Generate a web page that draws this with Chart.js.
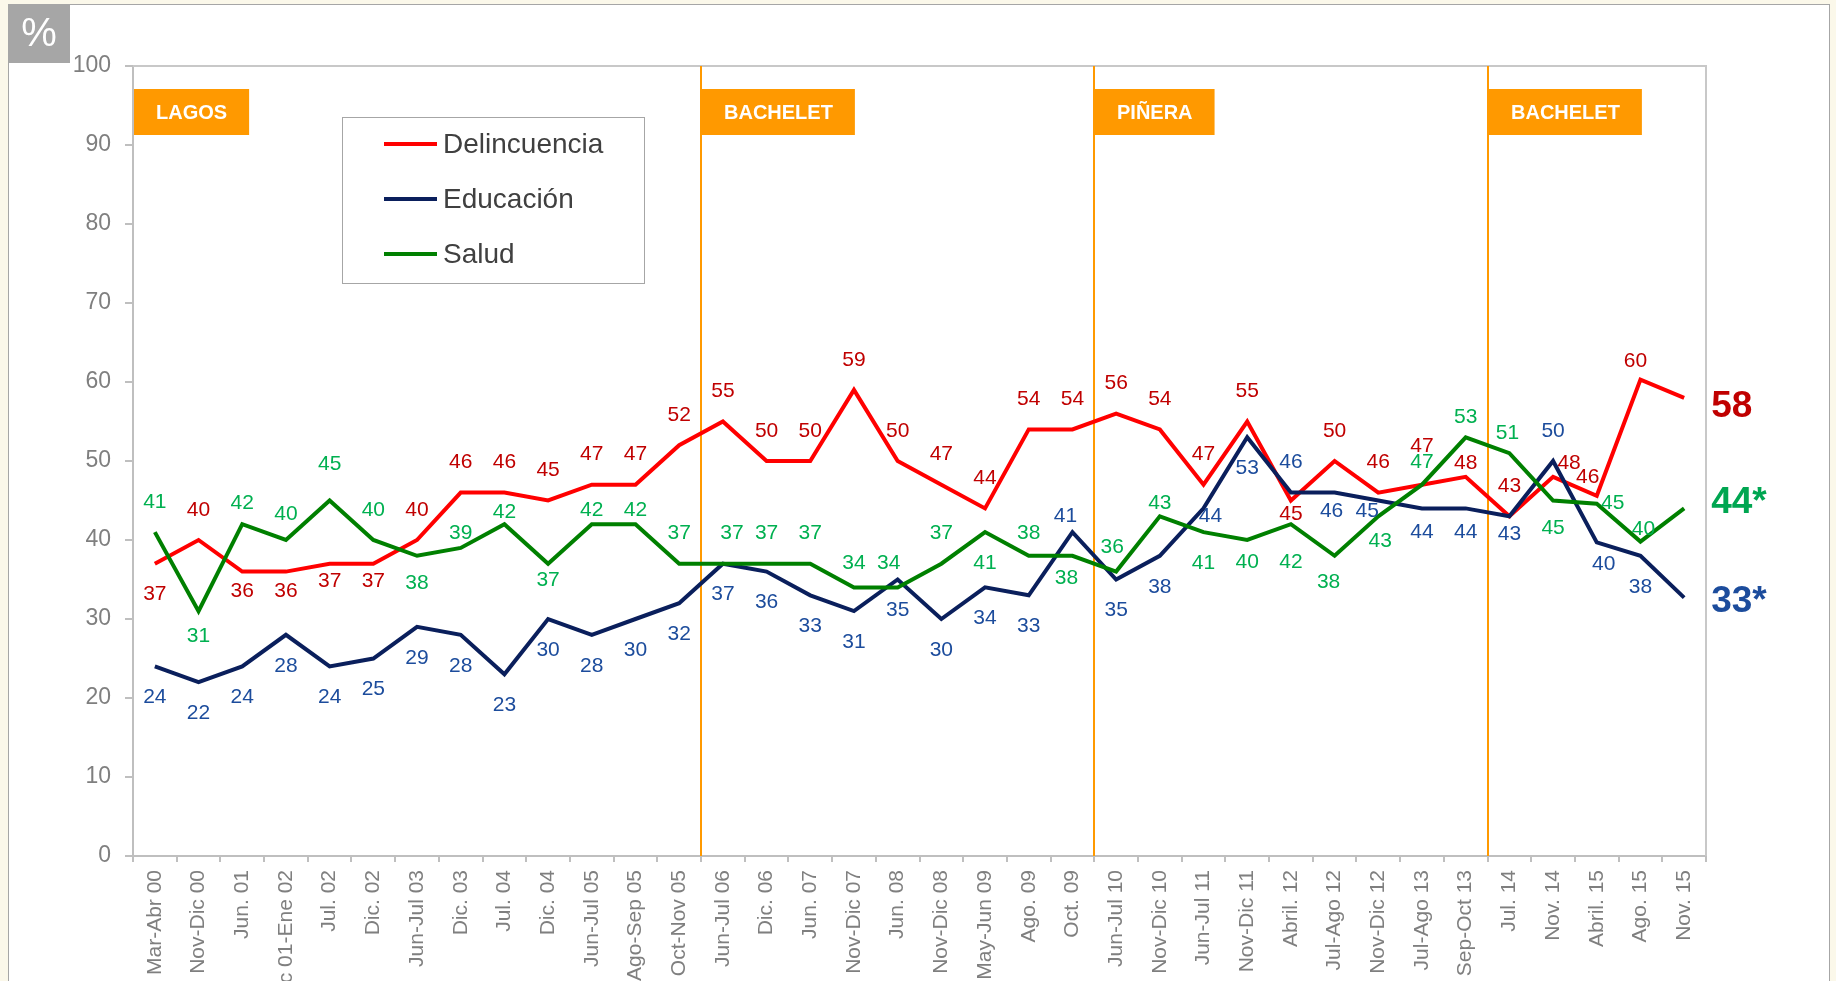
<!DOCTYPE html>
<html>
<head>
<meta charset="utf-8">
<script src="https://cdn.jsdelivr.net/npm/chart.js@4.4.1/dist/chart.umd.min.js"></script>
<style>
  html, body { margin: 0; padding: 0; background: #fbf8ea; }
  #wrap { position: relative; width: 1836px; height: 981px; }
</style>
</head>
<body>
<div id="wrap"><canvas id="chart"></canvas></div>
<script>
// survey waves (x axis)
const categories = [
  "Mar-Abr 00", "Nov-Dic 00", "Jun. 01", "Dic 01-Ene 02", "Jul. 02", "Dic. 02",
  "Jun-Jul 03", "Dic. 03", "Jul. 04", "Dic. 04", "Jun-Jul 05", "Ago-Sep 05",
  "Oct-Nov 05", "Jun-Jul 06", "Dic. 06", "Jun. 07", "Nov-Dic 07", "Jun. 08",
  "Nov-Dic 08", "May-Jun 09", "Ago. 09", "Oct. 09", "Jun-Jul 10", "Nov-Dic 10",
  "Jun-Jul 11", "Nov-Dic 11", "Abril. 12", "Jul-Ago 12", "Nov-Dic 12", "Jul-Ago 13",
  "Sep-Oct 13", "Jul. 14", "Nov. 14", "Abril. 15", "Ago. 15", "Nov. 15"
];

const delincuencia = [37, 40, 36, 36, 37, 37, 40, 46, 46, 45, 47, 47, 52, 55, 50, 50, 59, 50,
  47, 44, 54, 54, 56, 54, 47, 55, 45, 50, 46, 47, 48, 43, 48, 45.6, 60.3, 58];
const educacion = [24, 22, 24, 28, 24, 25, 29, 28, 23, 30, 28, 30, 32, 37, 36, 33, 31, 35,
  30, 34, 33, 41, 35, 38, 44, 53, 46, 46, 45, 44, 44, 43, 50, 39.7, 38, 32.7];
const salud = [41, 31, 42, 40, 45, 40, 38, 39, 42, 37, 42, 42, 37, 37, 37, 37, 34, 34,
  37, 41, 38, 38, 36, 43, 41, 40, 42, 38, 43, 47, 53, 51, 45, 44.6, 39.8, 44];

const seriesNames = ["Delincuencia", "Educación", "Salud"];
const endLabels = ["58", "33*", "44*"];

// government periods: name + index of first wave
const presidents = ["LAGOS", "BACHELET", "PIÑERA", "BACHELET"];
const presidentStart = [0, 13, 22, 31];

const colors = {
  red: "#ff0000",
  redText: "#c00000",
  navy: "#0a1f5c",
  navyText: "#1c4c9c",
  green: "#008000",
  greenText: "#00b050",
  greenEnd: "#00a651",
  orange: "#ff9900",
  axis: "#bfbfbf",
  tick: "#7f7f7f",
  frame: "#a6a6a6"
};

// label placement: a = above, b = below, r = right, - = none
const placement = [
  "babbbb" + "a".repeat(20) + "b" + "a".repeat(8) + "-",
  "b".repeat(21) + "a" + "bbbb" + "a" + "bbbbb" + "a" + "bb" + "-",
  "abaaaab" + "aab" + "a".repeat(9) + "bab" + "aa" + "bbbbb" + "aaa" + "b" + "r" + "a" + "-"
];
const nudges = [
  { 2: [0, 20], 3: [0, 20], 4: [0, 18], 5: [0, 18], 26: [0, 14], 29: [0, -38], 30: [0, -14],
    32: [16, -14], 33: [-9, -19], 34: [-5, -18] },
  { 21: [-7, -16], 24: [7, 8], 27: [-3, 19], 28: [-11, 11], 29: [0, 24], 30: [0, 24],
    31: [0, 18], 33: [7, 22] },
  { 1: [0, 25], 2: [0, -21], 3: [0, -26], 4: [0, -36], 6: [0, 27], 7: [0, -15], 8: [0, -12],
    9: [0, 17], 10: [0, -14], 11: [0, -14], 13: [9, -30], 16: [0, -24], 17: [-9, -24],
    20: [0, -23], 21: [-6, 22], 22: [-4, -24], 23: [0, -13], 25: [0, 22], 26: [0, 38],
    27: [-6, 26], 28: [2, 25], 29: [0, -22], 30: [0, -20], 31: [-2, -20], 32: [0, 28],
    33: [16, 0], 34: [3, -12] }
];
const placeOffsets = { a: [0, -30], b: [0, 31], r: [16, 0] };
const labelColors = [colors.redText, colors.navyText, colors.greenText];
const endColors = [colors.redText, colors.navyText, colors.greenEnd];
const endDy = [9, 4, -6];

const FONT = "'Liberation Sans', Arial, sans-serif";
Chart.defaults.font.family = FONT;

const backdrop = {
  id: "backdrop",
  beforeDraw(chart) {
    const ctx = chart.ctx;
    ctx.save();
    ctx.fillStyle = "#fbf8ea";
    ctx.fillRect(0, 0, chart.width, chart.height);
    ctx.fillStyle = "#ffffff";
    ctx.fillRect(8, 4, 1821, 990);
    ctx.strokeStyle = colors.frame;
    ctx.lineWidth = 1;
    ctx.strokeRect(8.5, 4.5, 1821, 990);
    ctx.fillStyle = "#a6a6a6";
    ctx.fillRect(8, 4, 62, 59);
    ctx.fillStyle = "#ffffff";
    ctx.font = "40px " + FONT;
    ctx.textAlign = "center";
    ctx.textBaseline = "middle";
    ctx.fillText("%", 39, 35);
    ctx.restore();
  }
};

function boundary(chart, i) {
  const x = chart.scales.x;
  if (i === 0) return chart.chartArea.left;
  return (x.getPixelForValue(i - 1) + x.getPixelForValue(i)) / 2;
}

const eras = {
  id: "eras",
  beforeDatasetsDraw(chart) {
    const { ctx, chartArea: a } = chart;
    ctx.save();
    // plot frame top and right
    ctx.strokeStyle = "#c8c8c8";
    ctx.lineWidth = 2;
    ctx.beginPath();
    ctx.moveTo(a.left, a.top);
    ctx.lineTo(a.right, a.top);
    ctx.lineTo(a.right, a.bottom);
    ctx.stroke();
    ctx.strokeStyle = colors.orange;
    ctx.lineWidth = 2;
    presidentStart.forEach((start, i) => {
      if (i === 0) return;
      const bx = Math.round(boundary(chart, start));
      ctx.beginPath();
      ctx.moveTo(bx, a.top);
      ctx.lineTo(bx, a.bottom);
      ctx.stroke();
    });
    ctx.restore();
  },
  afterDatasetsDraw(chart) {
    const ctx = chart.ctx;
    ctx.save();
    ctx.font = "bold 20px " + FONT;
    ctx.textBaseline = "middle";
    ctx.textAlign = "center";
    presidents.forEach((name, i) => {
      const left = Math.round(boundary(chart, presidentStart[i])) + 1;
      const w = ctx.measureText(name).width + 44;
      ctx.fillStyle = colors.orange;
      ctx.fillRect(left, 89, w, 46);
      ctx.fillStyle = "#ffffff";
      ctx.fillText(name, left + w / 2, 113);
    });
    ctx.restore();
  }
};

const valueLabels = {
  id: "valueLabels",
  afterDatasetsDraw(chart) {
    const ctx = chart.ctx;
    ctx.save();
    ctx.textAlign = "center";
    ctx.textBaseline = "middle";
    chart.data.datasets.forEach((ds, d) => {
      const meta = chart.getDatasetMeta(d);
      ctx.font = "21px " + FONT;
      ctx.fillStyle = labelColors[d];
      ds.data.forEach((v, i) => {
        const code = placement[d][i];
        if (code === "-") return;
        const off = nudges[d][i] || placeOffsets[code];
        const pt = meta.data[i];
        ctx.fillText(String(Math.round(v)), pt.x + off[0], pt.y + off[1]);
      });
      const last = meta.data[meta.data.length - 1];
      ctx.font = "bold 37px " + FONT;
      ctx.fillStyle = endColors[d];
      ctx.textAlign = "left";
      ctx.fillText(endLabels[d], last.x + 27, last.y + endDy[d]);
      ctx.textAlign = "center";
    });
    ctx.restore();
  }
};

const legendBox = {
  id: "legendBox",
  afterDraw(chart) {
    const ctx = chart.ctx;
    ctx.save();
    ctx.fillStyle = "#ffffff";
    ctx.fillRect(342, 117, 302, 166);
    ctx.strokeStyle = colors.frame;
    ctx.lineWidth = 1;
    ctx.strokeRect(342.5, 117.5, 302, 166);
    ctx.font = "28px " + FONT;
    ctx.textBaseline = "middle";
    ctx.textAlign = "left";
    chart.data.datasets.forEach((ds, d) => {
      const y = 144 + d * 55;
      ctx.strokeStyle = ds.borderColor;
      ctx.lineWidth = 4;
      ctx.beginPath();
      ctx.moveTo(384, y);
      ctx.lineTo(437, y);
      ctx.stroke();
      ctx.fillStyle = "#404040";
      ctx.fillText(ds.label, 443, y + 1);
    });
    ctx.restore();
  }
};

new Chart(document.getElementById("chart"), {
  type: "line",
  data: {
    labels: categories,
    datasets: [
      { label: seriesNames[0], data: delincuencia, borderColor: colors.red, order: 2 },
      { label: seriesNames[1], data: educacion, borderColor: colors.navy, order: 1 },
      { label: seriesNames[2], data: salud, borderColor: colors.green, order: 0 }
    ]
  },
  options: {
    responsive: true,
    maintainAspectRatio: false,
    animation: false,
    devicePixelRatio: 1,
    layout: { padding: { top: 66, right: 130, left: 0, bottom: 0 } },
    elements: {
      point: { radius: 0, hoverRadius: 0 },
      line: { tension: 0, borderWidth: 4, fill: false }
    },
    plugins: {
      legend: { display: false },
      tooltip: { enabled: false }
    },
    events: [],
    scales: {
      x: {
        offset: true,
        grid: { drawOnChartArea: false, offset: true, tickLength: 6, color: colors.axis, lineWidth: 2 },
        border: { color: colors.axis, width: 2 },
        ticks: {
          autoSkip: false,
          maxRotation: 90,
          minRotation: 90,
          padding: 8,
          color: colors.tick,
          font: { size: 21 }
        },
        afterFit(scale) { scale.height = 125; }
      },
      y: {
        min: 0,
        max: 100,
        grid: { drawOnChartArea: false, tickLength: 8, color: colors.axis, lineWidth: 2 },
        border: { color: colors.axis, width: 2 },
        ticks: { stepSize: 10, padding: 14, color: colors.tick, font: { size: 23 } },
        afterFit(scale) { scale.width = 133; }
      }
    }
  },
  plugins: [backdrop, eras, valueLabels, legendBox]
});
</script>
</body>
</html>
